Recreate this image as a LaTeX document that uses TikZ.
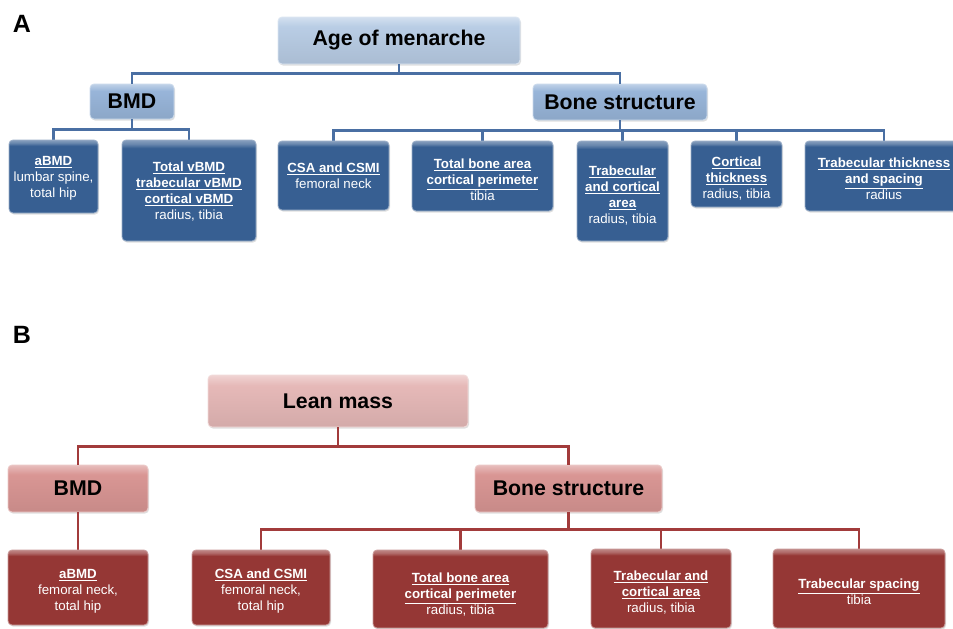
\documentclass[tikz,border=0pt]{standalone}
\usepackage{fontspec}
\setmainfont{Liberation Sans}
\usetikzlibrary{shadows}
\definecolor{ageC}{HTML}{B9CDE5}
\definecolor{midA}{HTML}{98B5D9}
\definecolor{childA}{HTML}{375F92}
\definecolor{lineA}{HTML}{4A6FA3}
\definecolor{leanC}{HTML}{E6B9B8}
\definecolor{midB}{HTML}{D99694}
\definecolor{childB}{HTML}{953735}
\definecolor{lineB}{HTML}{A23B3B}
\pgfdeclareverticalshading{glossAge}{100bp}{color(0bp)=(ageC!92!black); color(25bp)=(ageC!92!black); color(65bp)=(ageC); color(73bp)=(ageC!70!white); color(75bp)=(ageC!60!white); color(100bp)=(ageC!60!white)}
\pgfdeclareverticalshading{glossMidA}{100bp}{color(0bp)=(midA!92!black); color(25bp)=(midA!92!black); color(65bp)=(midA); color(73bp)=(midA!70!white); color(75bp)=(midA!60!white); color(100bp)=(midA!60!white)}
\pgfdeclareverticalshading{glossKidA}{100bp}{color(0bp)=(childA); color(25bp)=(childA); color(71bp)=(childA); color(73bp)=(childA!75!white); color(75bp)=(childA!60!white); color(100bp)=(childA!60!white)}
\pgfdeclareverticalshading{glossLean}{100bp}{color(0bp)=(leanC!92!black); color(25bp)=(leanC!92!black); color(65bp)=(leanC); color(73bp)=(leanC!70!white); color(75bp)=(leanC!60!white); color(100bp)=(leanC!60!white)}
\pgfdeclareverticalshading{glossMidB}{100bp}{color(0bp)=(midB!92!black); color(25bp)=(midB!92!black); color(65bp)=(midB); color(73bp)=(midB!70!white); color(75bp)=(midB!60!white); color(100bp)=(midB!60!white)}
\pgfdeclareverticalshading{glossKidB}{100bp}{color(0bp)=(childB); color(25bp)=(childB); color(71bp)=(childB); color(73bp)=(childB!75!white); color(75bp)=(childB!60!white); color(100bp)=(childB!60!white)}
\tikzset{
  basebox/.style={rectangle, rounded corners=4pt, inner sep=0pt, align=center,
    drop shadow={opacity=0.25, shadow xshift=1pt, shadow yshift=-1.5pt}},
  head/.style={font=\bfseries\fontsize{21.3}{25}\selectfont},
  topA/.style={basebox, head, draw=ageC!50!white, line width=0.8pt, shading=glossAge},
  midboxA/.style={basebox, head, draw=midA!50!white, line width=0.8pt, shading=glossMidA},
  kidA/.style={basebox, draw=childA!50!white, line width=0.8pt, shading=glossKidA},
  topB/.style={basebox, head, draw=leanC!50!white, line width=0.8pt, shading=glossLean},
  midboxB/.style={basebox, head, draw=midB!50!white, line width=0.8pt, shading=glossMidB},
  kidB/.style={basebox, draw=childB!50!white, line width=0.8pt, shading=glossKidB},
  kidtext/.style={align=center, inner sep=0pt, text=white, font=\fontsize{13.3}{16}\selectfont},
  connA/.style={draw=lineA, line width=2.4pt},
  connB/.style={draw=lineB, line width=2.4pt},
  panellabel/.style={font=\bfseries\fontsize{25}{28}\selectfont, inner sep=0pt},
}
\newcommand{\ttl}[1]{\textbf{\underline{#1}}}
\begin{document}
\begin{tikzpicture}[x=1pt,y=-1pt]
\useasboundingbox (0,0) rectangle (953,629);
\fill[white] (0,0) rectangle (953,629);
\begin{scope}
\clip (0,0) rectangle (953,629);
% ---------- Panel A ----------
\node[panellabel] (labA) at (22,24) {A};
\node[topA, minimum width=242pt, minimum height=47pt] (age) at (399,40.5) {Age of menarche};
\node[midboxA, minimum width=84pt, minimum height=35pt] (bmdA) at (132,101.5) {BMD};
\node[midboxA, minimum width=174pt, minimum height=36pt] (bsA) at (620,102) {Bone structure};
\draw[connA] (age.south) -- ++(0,9) -| (bmdA.north);
\draw[connA] (age.south) -- ++(0,9) -| (bsA.north);
\draw[connA] (bmdA.south) -- ++(0,10) -| (53.5,141);
\draw[connA] (bmdA.south) -- ++(0,10) -| (189,141);
\foreach \cx in {333.5,482.5,622.5,736.5,884} {\draw[connA] (bsA.south) -- ++(0,10) -| (\cx,141);}
\node[kidA, minimum width=89pt, minimum height=73pt] (a1) at (53.5,176.5) {};
\node[kidA, minimum width=134pt, minimum height=101pt] (a2) at (189,190.5) {};
\node[kidA, minimum width=111pt, minimum height=69pt] (a3) at (333.5,175.5) {};
\node[kidA, minimum width=141pt, minimum height=70pt] (a4) at (482.5,176) {};
\node[kidA, minimum width=91pt, minimum height=100pt] (a5) at (622.5,191) {};
\node[kidA, minimum width=91pt, minimum height=66pt] (a6) at (736.5,174) {};
\node[kidA, minimum width=158pt, minimum height=70pt] (a7) at (884,176) {};
\node[kidtext] (a1t) at (53.5,178.5) {\ttl{aBMD}\\lumbar spine,\\total hip};
\node[kidtext] (a2t) at (189,191.5) {\ttl{Total vBMD}\\\ttl{trabecular vBMD}\\\ttl{cortical vBMD}\\radius, tibia};
\node[kidtext] (a3t) at (333.5,175.5) {\ttl{CSA and CSMI}\\femoral neck};
\node[kidtext] (a4t) at (482.5,180) {\ttl{Total bone area}\\\ttl{cortical perimeter}\\tibia};
\node[kidtext] (a5t) at (622.5,196) {\ttl{Trabecular}\\\ttl{and cortical}\\\ttl{area}\\radius, tibia};
\node[kidtext] (a6t) at (736.5,179) {\ttl{Cortical}\\\ttl{thickness}\\radius, tibia};
\node[kidtext] (a7t) at (884,179) {\ttl{Trabecular thickness}\\\ttl{and spacing}\\radius};
% ---------- Panel B ----------
\node[panellabel] (labB) at (22,335) {B};
\node[topB, minimum width=260pt, minimum height=52pt] (lean) at (338,401) {Lean mass};
\node[midboxB, minimum width=140pt, minimum height=47pt] (bmdB) at (78,488.5) {BMD};
\node[midboxB, minimum width=187pt, minimum height=47pt] (bsB) at (568.5,488.5) {Bone structure};
\draw[connB] (lean.south) -- ++(0,19) -| (bmdB.north);
\draw[connB] (lean.south) -- ++(0,19) -| (bsB.north);
\draw[connB] (bmdB.south) -- (78,551);
\foreach \cx in {261,460.5,661,859} {\draw[connB] (bsB.south) -- ++(0,17) -| (\cx,550);}
\node[kidB, minimum width=140pt, minimum height=75pt] (b1) at (78,587.5) {};
\node[kidB, minimum width=138pt, minimum height=75pt] (b2) at (261,587.5) {};
\node[kidB, minimum width=175pt, minimum height=78pt] (b3) at (460.5,589) {};
\node[kidB, minimum width=140pt, minimum height=79pt] (b4) at (661,588.5) {};
\node[kidB, minimum width=172pt, minimum height=79pt] (b5) at (859,588.5) {};
\node[kidtext] (b1t) at (78,591) {\ttl{aBMD}\\femoral neck,\\total hip};
\node[kidtext] (b2t) at (261,591) {\ttl{CSA and CSMI}\\femoral neck,\\total hip};
\node[kidtext] (b3t) at (460.5,595) {\ttl{Total bone area}\\\ttl{cortical perimeter}\\radius, tibia};
\node[kidtext] (b4t) at (661,593) {\ttl{Trabecular and}\\\ttl{cortical area}\\radius, tibia};
\node[kidtext] (b5t) at (859,592) {\ttl{Trabecular spacing}\\tibia};
\end{scope}
\end{tikzpicture}
\end{document}
